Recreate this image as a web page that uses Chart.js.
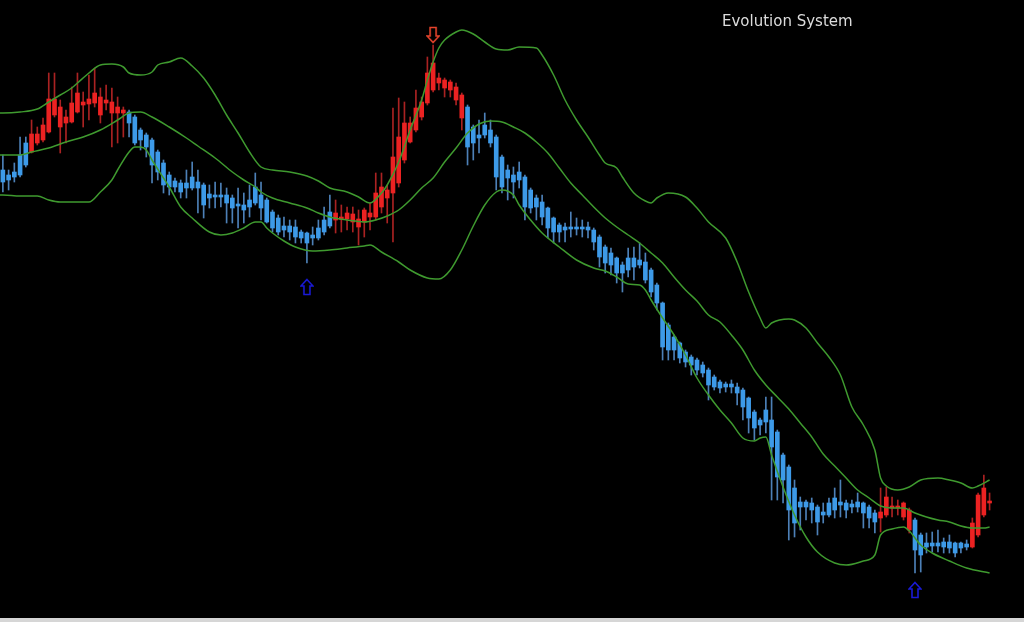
<!DOCTYPE html>
<html><head><meta charset="utf-8">
<script src="https://cdn.jsdelivr.net/npm/chart.js@4.4.1/dist/chart.umd.min.js"></script>
<style>
html,body{margin:0;padding:0;background:#d6d6d6;}
#wrap{position:relative;width:1024px;height:618px;background:#000;}
#title{position:absolute;left:722px;top:12px;font:15px "DejaVu Sans",sans-serif;color:#dcdcdc;line-height:18px;white-space:nowrap;}
canvas{display:block}
</style></head><body>
<div id="wrap"><canvas id="c" width="1024" height="618"></canvas><div id="title">Evolution System</div></div>
<script>
// ---- candle data (price points) ----
const opens = [450,445,448,465,477,468,477,480,488,505, 493,497,498,508,515,516,517,505,517,507,
 507,507,508,503,490,485,480,468,457,445, 439,437,437,443,438,435,426,425,425,425,
 422,416,415,420,433,425,420,408,402,394, 394,393,388,387,385,382,388,394,400,401,
 401,398,393,398,403,403,413,422,427,437, 460,478,490,503,517,530,537,532,530,520,
 502,513,493,485,485,490,483,463,450,445, 440,443,430,422,418,412,402,395,393,393,
 393,393,393,390,383,373,367,362,355,350, 353,355,358,350,335,317,295,283,277,268,
 263,260,255,250,243,238,236,236,233,230, 222,208,200,198,200,188,165,153,132,118,
 118,117,113,108,105,110,118,117,116,113, 117,113,107,102,105,112,112,117,110,100,
 85,77,77,74,78,78,77,72,73,73, 85,105,117];
const closes = [438,440,443,445,455,486,486,495,521,521, 513,503,517,527,518,521,527,523,520,518,
 513,510,497,477,480,473,455,448,435,433, 433,428,432,432,432,415,422,423,423,417,
 412,414,410,413,417,412,398,392,388,390, 388,383,382,377,382,392,400,408,407,403,
 407,406,401,410,407,427,433,430,463,483, 497,497,512,518,547,557,542,540,538,533,
 525,473,477,482,495,477,443,433,442,438, 448,413,412,413,403,392,388,388,390,391,
 391,391,390,378,363,357,355,347,347,362, 362,360,340,328,317,273,270,270,262,258,
 255,250,247,235,233,232,233,233,227,213, 202,192,195,210,173,143,140,110,97,113,
 113,110,98,105,117,122,115,110,113,118, 107,102,98,108,123,114,114,103,90,70,
 65,73,74,77,73,72,67,77,76,97, 125,132,118];
const highs = [465,450,457,483,483,500,493,502,547,547, 520,510,533,547,528,545,552,532,535,532,
 523,513,510,505,492,487,482,470,460,448, 442,440,450,458,450,437,435,438,437,432,
 425,432,427,435,447,438,422,410,405,403, 400,400,390,388,393,400,413,425,420,415,
 413,413,410,412,417,447,447,435,512,522, 518,503,530,523,563,575,547,542,540,537,
 527,515,495,500,507,500,485,465,455,453, 458,445,432,425,425,413,403,397,397,408,
 402,400,398,392,385,375,372,363,358,372, 373,377,367,352,337,318,297,285,278,270,
 265,262,258,252,245,240,238,240,237,232, 223,210,202,223,223,190,167,155,140,123,
 120,122,115,117,122,132,140,120,120,127, 118,115,110,132,133,123,120,118,112,102,
 87,87,88,90,82,85,78,78,80,102, 127,145,127];
const lows = [428,430,438,443,453,467,475,478,487,503, 467,477,497,507,493,500,513,497,510,473,
 477,483,483,475,470,463,437,440,427,425, 428,422,422,430,407,402,412,412,413,397,
 397,392,397,403,415,400,397,388,385,383, 380,377,377,357,375,380,385,392,387,388,
 390,388,375,383,390,400,407,397,378,433, 457,477,488,500,515,528,530,523,523,515,
 490,455,460,467,482,473,430,427,420,422, 432,400,407,400,395,382,377,378,378,383,
 385,383,382,370,353,347,345,337,328,343, 340,352,337,323,310,260,260,260,257,253,
 245,245,243,220,230,227,228,227,215,200, 187,180,185,187,120,120,117,80,83,90,
 100,97,85,97,103,102,103,102,107,108, 92,92,87,88,103,103,105,100,87,47,
 48,67,68,68,67,67,63,67,70,72, 83,103,110];
// trend state runs: 'u' = red (up), 'd' = blue (down)
const trendRuns = [['d',5],['u',17],['d',36],['u',23],['d',72],['u',6],['d',10],['u',4]];

// ---- bands (sampled at candle indices) ----
const upperIdx = [-1,0,3,6,8,10,12,13,15,17,19,21,22,24,26,27,29,31,33,35,37,39,41,43,45,47,50,53,55,57,60,62,64,66,67,69,71,73,74,75,76,77,79,80,82,84,86,88,90,93,94,96,98,100,102,104,105,107,108,110,112,113,114,116,119,121,123,126,128,130,132,133,134,137,138,140,142,144,146,148,150,152,153,154,156,158,160,163,165,167,169,170,172];
const upperVal = [507,507,508,511,518,525,532,537,547,555,556,553,547,545,548,555,558,562,554,542,525,505,487,468,453,450,448,444,439,432,428,423,417,427,435,458,490,520,540,558,572,580,588,590,586,578,571,570,573,572,565,545,520,500,483,465,457,452,443,427,419,417,422,427,423,412,398,382,358,328,302,292,297,301,300,292,277,263,245,213,195,170,142,134,130,133,140,142,140,137,132,134,140];
const middleIdx = [-1,0,3,5,8,11,14,17,20,22,24,26,29,32,34,37,40,42,44,45,47,50,53,55,57,60,63,65,67,69,71,73,75,77,79,81,83,85,87,89,91,93,95,97,99,101,103,105,107,109,111,113,115,117,119,121,123,125,127,129,131,133,135,137,139,141,143,145,147,149,151,153,155,157,159,161,163,165,167,169,171,172];
const middleVal = [465,465,465,468,472,478,483,490,500,507,508,503,493,482,474,462,448,440,433,428,422,417,412,407,403,400,398,400,404,410,420,432,442,458,472,487,496,499,498,493,487,478,467,452,437,425,413,402,393,385,377,367,357,343,330,319,305,298,285,270,250,235,223,211,197,183,166,154,142,130,122,114,112,112,107,103,100,98,94,92,92,93];
const lowerIdx = [-1,0,3,6,8,10,13,15,17,19,20,22,23,24,25,26,28,29,31,33,36,38,40,42,44,45,46,47,49,51,54,57,60,63,64,66,69,71,74,76,78,80,82,84,86,87,89,90,92,94,97,100,103,105,107,109,111,112,113,115,117,119,121,123,125,127,129,131,132,133,134,136,138,140,142,145,147,150,152,153,155,157,158,160,162,165,168,172];
const lowerVal = [425,425,424,424,420,418,418,418,428,440,450,468,473,473,470,460,442,433,413,402,388,385,387,392,398,398,392,387,379,373,369,370,372,374,375,368,358,350,342,341,350,370,394,415,428,430,425,415,400,387,373,360,352,349,343,336,335,330,320,302,285,265,242,225,210,197,182,179,182,183,165,133,105,83,68,57,55,59,65,85,91,93,89,75,67,59,52,47];

// ---- signal arrows ----
const buyIdx = [53,159];
const buyVal = [333,30];
const sellIdx = [75];
const sellVal = [585];

// ---- build ----
const RED = '#ec2222', BLUE = '#3d9ae8', GREEN = '#3f9a2f';
const trend = [];
trendRuns.forEach(([t,n]) => { for (let k = 0; k < n; k++) trend.push(t); });
const colors = trend.map(t => t === 'u' ? RED : BLUE);
const wickColors = trend.map(t => t === 'u' ? 'rgba(200,40,40,0.85)' : 'rgba(90,150,215,0.85)');
const bodies = opens.map((o,i) => ({x:i, y:[o, closes[i]]}));
const wicks = highs.map((h,i) => ({x:i, y:[lows[i], h]}));
const pts = (idx, val) => idx.map((x,k) => ({x, y: val[k]}));

function arrowImage(color, up) {
  const c = document.createElement('canvas'); c.width = 14; c.height = 18;
  const g = c.getContext('2d');
  g.strokeStyle = color; g.lineWidth = 1.6; g.lineJoin = 'miter';
  const shape = [[7,1.5],[13,8],[10,8],[10,16.5],[4,16.5],[4,8],[1,8]];
  g.beginPath();
  shape.forEach(([px,py],k) => { const yy = up ? py : 18 - py; k ? g.lineTo(px,yy) : g.moveTo(px,yy); });
  g.closePath(); g.stroke();
  return c;
}

const lineDs = (data) => ({type:'line', data, borderColor:GREEN, borderWidth:1.5, pointRadius:0,
  cubicInterpolationMode:'monotone', fill:false, order:0});

new Chart(document.getElementById('c'), {
  type: 'bar',
  data: { datasets: [
    lineDs(pts(upperIdx, upperVal)),
    lineDs(pts(middleIdx, middleVal)),
    lineDs(pts(lowerIdx, lowerVal)),
    {type:'line', data: pts(buyIdx, buyVal), showLine:false, pointStyle: arrowImage('#1a1ad6', true), pointRadius:6, order:0},
    {type:'line', data: pts(sellIdx, sellVal), showLine:false, pointStyle: arrowImage('#e8442c', false), pointRadius:6, order:0},
    {type:'bar', data: bodies, backgroundColor: colors, borderWidth:0, barThickness:4, minBarLength:2, grouped:false, order:1},
    {type:'bar', data: wicks, backgroundColor: wickColors, borderWidth:0, barThickness:1, grouped:false, order:2}
  ]},
  options: {
    responsive:false, animation:false, events:[],
    layout:{padding:0, autoPadding:false},
    scales:{
      x:{type:'linear', min:-0.5, max:178, display:false, offset:false},
      y:{min:2, max:620, display:false}
    },
    plugins:{legend:{display:false}, tooltip:{enabled:false}, title:{display:false}}
  }
});
</script></body></html>
